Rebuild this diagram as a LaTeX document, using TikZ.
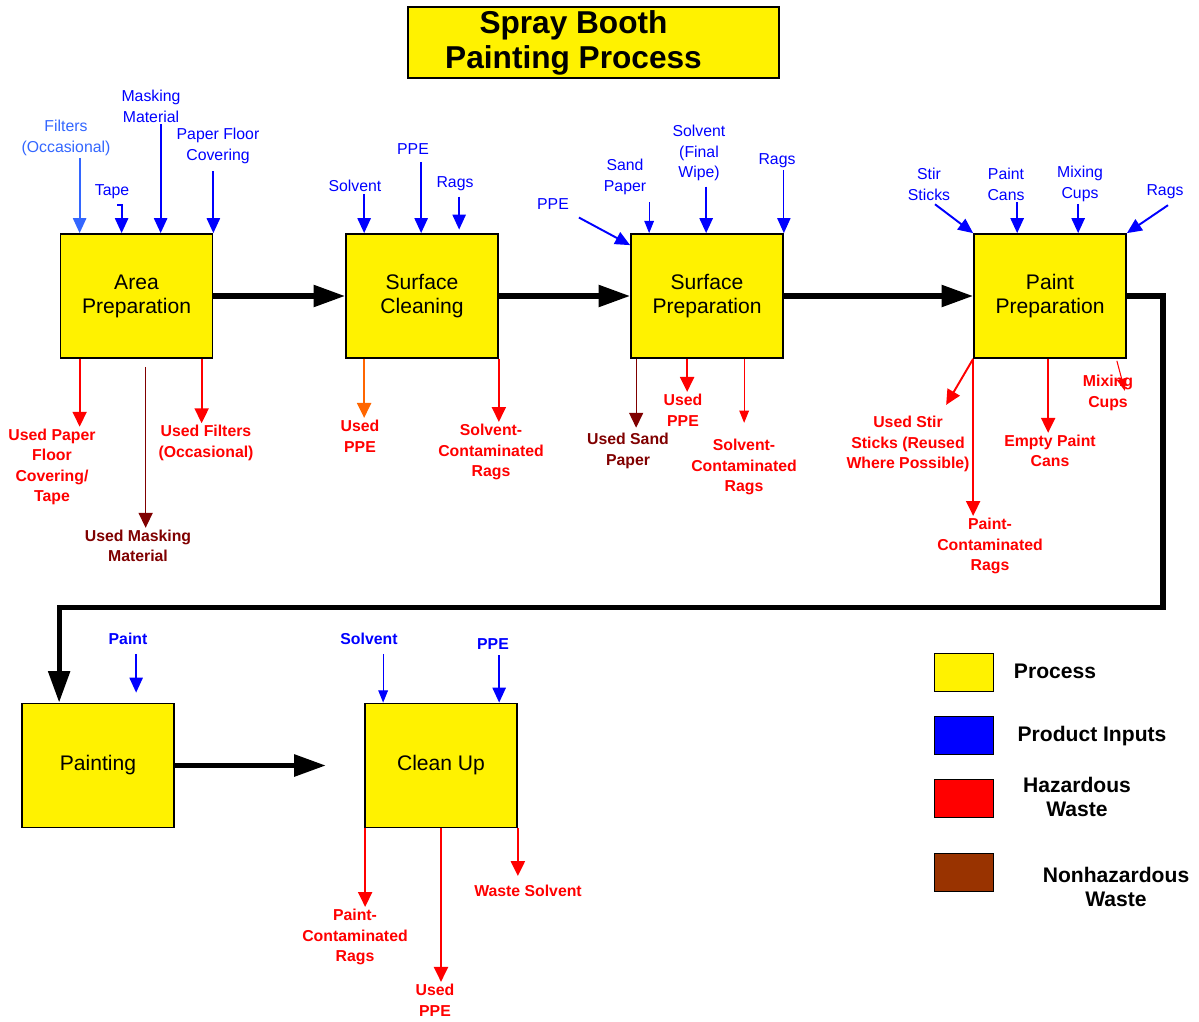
\documentclass[tikz,border=0pt]{standalone}
\usepackage{fontspec}
\setmainfont{Liberation Sans}
\usetikzlibrary{arrows.meta, calc, positioning}
\definecolor{inblue}{RGB}{0,0,255}
\definecolor{ltblue}{RGB}{51,102,255}
\definecolor{hazred}{RGB}{255,0,0}
\definecolor{nhred}{RGB}{128,0,0}
\definecolor{ppeorange}{RGB}{255,102,0}
\definecolor{nhbrown}{RGB}{153,51,0}

\begin{document}
\begin{tikzpicture}[x=0.02cm, y=-0.02cm,
		proc/.style={draw, line width=1pt, fill=yellow, minimum width=3.04cm, minimum height=2.48cm, align=center, font=\fontsize{12}{13.6}\selectfont},
		inlbl/.style={text=inblue, align=center, inner sep=1pt, font=\fontsize{9}{11.8}\selectfont},
		inbold/.style={inlbl, font=\fontsize{9}{11.8}\selectfont\bfseries},
		outlbl/.style={text=hazred, align=center, inner sep=1pt, font=\fontsize{9}{11.7}\selectfont\bfseries},
		inarr/.style={-{Triangle[length=8.5pt, width=7.5pt]}, line width=1.1pt, inblue},
		outarr/.style={-{Triangle[length=8.5pt, width=8pt]}, line width=1.1pt, hazred},
		thinarr/.style={line width=0.6pt, -{Triangle[length=7pt, width=5.5pt]}},
		thinline/.style={line width=0.7pt},
		flow/.style={-{Triangle[length=18pt, width=12pt]}, line width=3pt},
		key/.style={draw, minimum width=1.18cm, minimum height=0.76cm},
		keylbl/.style={align=center, font=\fontsize{12}{14}\selectfont\bfseries}
		]
		\useasboundingbox (0,0) rectangle (1199,1021);
		
		\node[draw, line width=1pt, fill=yellow, minimum width=7.42cm, minimum height=1.42cm, inner sep=0pt, align=center, font=\fontsize{18}{20}\selectfont\bfseries] (title) at (593.5,42.5) {Spray Booth\hspace*{0.8cm}\\Painting Process\hspace*{0.8cm}};
		
		% process boxes
		\node[proc] (ap) at (136.5,296) {Area\\Preparation};
		\node[proc] (sc) at (422,296) {Surface\\Cleaning};
		\node[proc] (sp) at (707,296) {Surface\\Preparation};
		\node[proc] (pp) at (1050,296) {Paint\\Preparation};
		\node[proc] (pt) at (98,765.5) {Painting};
		\node[proc] (cu) at (441,765.5) {Clean Up};
		
		\draw[flow] (ap.east) to (sc.west);
		\draw[flow] (sc.east) to (sp.west);
		\draw[flow] (sp.east) to (pp.west);
		\coordinate (pt0) at ($(pt.north west)+(38,0)$);
		\draw[flow] (pp.east) -- ++(36,0) |- ($(pt0)+(0,-95)$) -- (pt0);
		\coordinate (pt9) at ($(pt.east)+(151,0)$);
		\draw[flow] (pt.east) to (pt9);
		
		% area preparation
		\node[inlbl, text=ltblue] (i1) at (66,138) {Filters\\(Occasional)};
		\node[inlbl] (i2) at (112,192) {Tape};
		\node[inlbl] (i3) at (151,106) {Masking\\Material};
		\node[inlbl] (i4) at (218,146) {Paper Floor\\Covering};
		\coordinate (a1) at ($(ap.north west)+(20,0)$);
		\coordinate (a2) at ($(ap.north west)+(62,0)$);
		\coordinate (a3) at ($(ap.north west)+(101,0)$);
		\draw[inarr, ltblue] (i1.south -| a1) to (a1);
		\draw[inarr] (i2.south) ++(5,4) -| (a2);
		\draw[inarr] (i3.south -| a3) to (a3);
		\draw[inarr, shorten <=3pt] (i4.south -| ap.north east) to (ap.north east);
		
		\node[outlbl] (o1) at (52,467) {Used Paper\\Floor\\Covering/\\Tape};
		\node[outlbl, text=nhred] (o2) at (138,546) {Used Masking\\Material};
		\node[outlbl] (o3) at (206,443) {Used Filters\\(Occasional)};
		\coordinate (b1) at ($(ap.south west)+(20,0)$);
		\coordinate (b2) at ($(ap.south west)+(86,0)$);
		\coordinate (b3) at ($(ap.south west)+(142,0)$);
		\draw[outarr] (b1) to (b1 |- o1.north);
		\draw[outarr, nhred, thinline, shorten <=4.5pt] (b2) to (b2 |- o2.north);
		\draw[outarr] (b3) to (b3 |- o3.north);
		
		% surface cleaning
		\node[inlbl] (i5) at (355,186) {Solvent};
		\node[inlbl] (i6) at (413,149) {PPE};
		\node[inlbl] (i7) at (455,184) {Rags};
		\coordinate (a5) at ($(sc.north west)+(19,0)$);
		\coordinate (a6) at ($(sc.north west)+(76,0)$);
		\coordinate (a7) at ($(sc.north west)+(114,0)$);
		\draw[inarr] (i5.south -| a5) to (a5);
		\draw[inarr, shorten <=3pt] (i6.south -| a6) to (a6);
		\draw[inarr, shorten <=2pt, shorten >=2pt] (i7.south -| a7) to (a7);
		
		\node[outlbl] (o4) at (360,436) {Used\\PPE};
		\node[outlbl] (o5) at (491,452) {Solvent-\\Contaminated\\Rags};
		\coordinate (b4) at ($(sc.south west)+(19,0)$);
		\draw[outarr, ppeorange] (b4) to (b4 |- o4.north);
		\draw[outarr] (sc.south east) to (sc.south east |- o5.north);
		
		% surface preparation
		\node[inlbl] (i8) at (553,204) {PPE};
		\node[inlbl] (i9) at (625,177) {Sand\\Paper};
		\node[inlbl] (i10) at (699,153) {Solvent\\(Final\\Wipe)};
		\node[inlbl] (i11) at (777,161) {Rags};
		\coordinate (a8) at ($(sp.north west)+(0,12)$);
		\coordinate (a9) at ($(sp.north west)+(19,0)$);
		\coordinate (a10) at ($(sp.north west)+(76,0)$);
		\draw[inarr] ([shift={(8,6)}]i8.south east) to (a8);
		\draw[inarr, thinarr, shorten <=3pt] (i9.south -| a9) to (a9);
		\draw[inarr, shorten <=2pt] (i10.south -| a10) to (a10);
		\draw[inarr, thinline] (i11.south -| sp.north east) to (sp.north east);
		
		\node[outlbl, text=nhred] (o6) at (628,451) {Used Sand\\Paper};
		\node[outlbl] (o7) at (683,410) {Used\\PPE};
		\node[outlbl] (o8) at (744,467) {Solvent-\\Contaminated\\Rags};
		\coordinate (b6) at ($(sp.south west)+(6,0)$);
		\coordinate (b7) at ($(sp.south west)+(57,0)$);
		\coordinate (b8) at ($(sp.south west)+(114,0)$);
		\draw[outarr, nhred, thinline, shorten >=2pt] (b6) to (b6 |- o6.north);
		\draw[outarr] (b7) to (b7 |- o7.north);
		\draw[outarr, thinarr, shorten >=8pt] (b8) to (b8 |- o8.north);
		
		% paint preparation
		\node[inlbl] (i12) at (929,184) {Stir\\Sticks};
		\node[inlbl] (i13) at (1006,184) {Paint\\Cans};
		\node[inlbl] (i14) at (1080,184) {Mixing\\Cups};
		\node[inlbl] (i15) at (1165,192) {Rags};
		\coordinate (a13) at ($(pp.north west)+(44,0)$);
		\coordinate (a14) at ($(pp.north west)+(105,0)$);
		\draw[inarr] ([shift={(6,2)}]i12.south) to (pp.north west);
		\draw[inarr] (i13.south -| a13) to (a13);
		\draw[inarr] (i14.south -| a14) to (a14);
		\draw[inarr] ([shift={(3,4)}]i15.south) to (pp.north east);
		
		\node[outlbl] (o9) at (908,444) {Used Stir\\Sticks (Reused\\Where Possible)};
		\node[outlbl] (o10) at (990,546) {Paint-\\Contaminated\\Rags};
		\node[outlbl] (o11) at (1050,451) {Empty Paint\\Cans};
		\node[outlbl] (o12) at (1108,393) {Mixing\\Cups};
		\coordinate (b9) at ($(pp.south west)+(-27,46)$);
		\coordinate (b11) at ($(pp.south west)+(75,0)$);
		\coordinate (b12) at ($(pp.south east)+(-10,2)$);
		\coordinate (b12e) at ($(b12)+(8,30)$);
		\draw[outarr] (pp.south west) to (b9);
		\draw[outarr] (pp.south west) to (pp.south west |- o10.north);
		\draw[outarr] (b11) to (b11 |- o11.north);
		\draw[outarr, thinarr] (b12) to (b12e);
		
		% painting and clean up
		\node[inbold] (i16) at (128,639) {Paint};
		\node[inbold] (i17) at (369,639) {Solvent};
		\node[inbold] (i18) at (493,644) {PPE};
		\coordinate (a16) at ($(pt.north west)+(115,-10)$);
		\coordinate (a17) at ($(cu.north west)+(19,0)$);
		\coordinate (a18) at ($(cu.north west)+(135,0)$);
		\draw[inarr, shorten <=4pt] (i16.south -| a16) to (a16);
		\draw[inarr, thinarr, shorten <=4pt] (i17.south -| a17) to (a17);
		\draw[inarr, shorten <=2pt] (i18.south -| a18) to (a18);
		
		\node[outlbl] (o13) at (355,937) {Paint-\\Contaminated\\Rags};
		\node[outlbl] (o14) at (435,1000) {Used\\PPE};
		\node[outlbl] (o15) at (528,891) {Waste Solvent};
		\coordinate (b13) at ($(cu.south west)+(1,0)$);
		\draw[outarr] (b13) to (b13 |- o13.north);
		\draw[outarr] (cu.south) to (cu.south |- o14.north);
		\draw[outarr, shorten >=4pt] (cu.south east) to (cu.south east |- o15.north);
		
		% legend
		\node[key, fill=yellow] (k1) at (963.5,672.5) {};
		\node[key, fill=inblue] (k2) at (963.5,735) {};
		\node[key, fill=hazred] (k3) at (963.5,798) {};
		\node[key, fill=nhbrown] (k4) at (963.5,872) {};
		\node[keylbl] (l1) at (1055,671) {Process};
		\node[keylbl] (l2) at (1092,736) {Product Inputs};
		\node[keylbl] (l3) at (1077,797) {Hazardous\\Waste};
		\node[keylbl] (l4) at (1116,887) {Nonhazardous\\Waste};
		
\end{tikzpicture}
\end{document}
